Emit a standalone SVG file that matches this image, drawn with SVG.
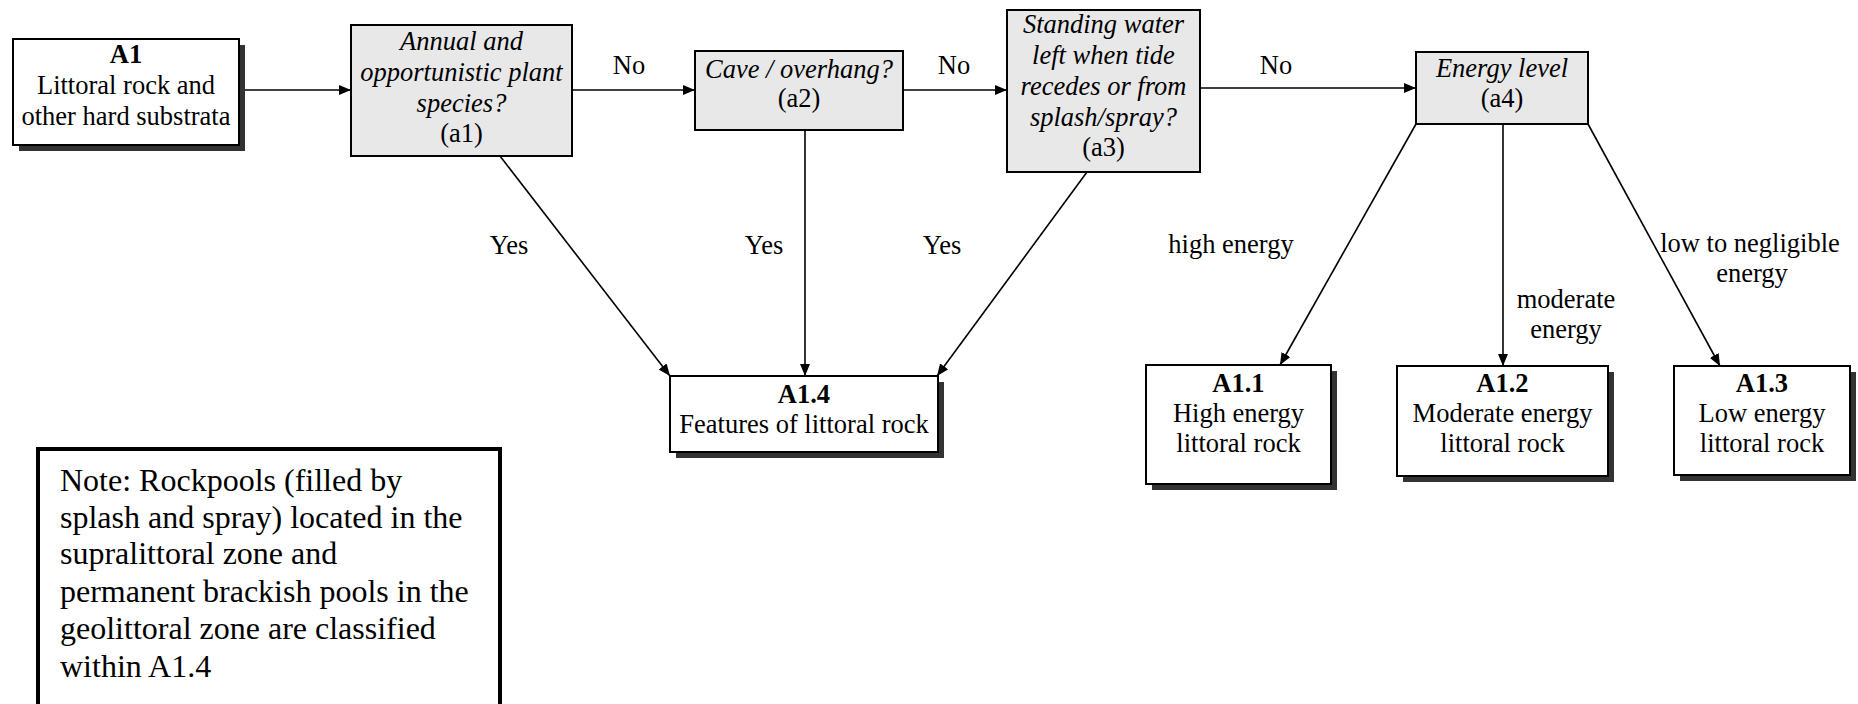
<svg xmlns="http://www.w3.org/2000/svg" width="1858" height="704" viewBox="0 0 1858 704">
<style>
text{font-family:"Liberation Serif","Times New Roman",serif;font-size:26.5px;fill:#000;text-anchor:middle}
.b{font-weight:bold}
.i{font-style:italic}
.note{font-size:32px;text-anchor:start}
.box{fill:#fff;stroke:#000;stroke-width:2}
.q{fill:#e8e8e8;stroke:#000;stroke-width:2}
.sh{fill:#333}
.c{stroke:#000;stroke-width:1.6;fill:none;marker-end:url(#ah)}
</style>
<defs>
<marker id="ah" markerUnits="userSpaceOnUse" markerWidth="12" markerHeight="10" refX="12" refY="5" orient="auto">
<path d="M0,0 L12,5 L0,10 z" fill="#000"/>
</marker>
</defs>
<rect width="1858" height="704" fill="#fff"/>
<g id="connectors">
<line class="c" x1="239" y1="90" x2="351" y2="90"/>
<line class="c" x1="572" y1="90" x2="695" y2="90"/>
<line class="c" x1="903" y1="90" x2="1007" y2="90"/>
<line class="c" x1="1200" y1="88" x2="1416" y2="88"/>
<line class="c" x1="500" y1="156" x2="670" y2="376"/>
<line class="c" x1="805" y1="130" x2="805" y2="376"/>
<line class="c" x1="1087" y1="172" x2="937" y2="376"/>
<line class="c" x1="1416" y1="124" x2="1280" y2="365"/>
<line class="c" x1="1503" y1="124" x2="1503" y2="366"/>
<line class="c" x1="1588" y1="124" x2="1720" y2="366"/>
<text x="629" y="74">No</text>
<text x="954" y="74">No</text>
<text x="1276" y="74">No</text>
<text x="509" y="254">Yes</text>
<text x="764" y="254">Yes</text>
<text x="942" y="254">Yes</text>
<text x="1231" y="253">high energy</text>
<text x="1566" y="308">moderate</text>
<text x="1566" y="338">energy</text>
<text x="1750" y="252">low to negligible</text>
<text x="1752" y="282">energy</text>
</g>
<g id="A1">
<rect class="sh" x="19" y="45" width="226" height="106"/>
<rect class="box" x="13" y="39" width="226" height="106"/>
<text class="b" x="126" y="63">A1</text>
<text x="126" y="94">Littoral rock and</text>
<text x="126" y="125">other hard substrata</text>
</g>
<g id="a1">
<rect class="q" x="351" y="25" width="221" height="131"/>
<text class="i" x="461.5" y="50">Annual and</text>
<text class="i" x="461.5" y="81">opportunistic plant</text>
<text class="i" x="461.5" y="112">species?</text>
<text x="461.5" y="142">(a1)</text>
</g>
<g id="a2">
<rect class="q" x="695" y="51" width="208" height="79"/>
<text class="i" x="799" y="78">Cave / overhang?</text>
<text x="799" y="107">(a2)</text>
</g>
<g id="a3">
<rect class="q" x="1007" y="10" width="193" height="162"/>
<text class="i" x="1103.5" y="33">Standing water</text>
<text class="i" x="1103.5" y="64">left when tide</text>
<text class="i" x="1103.5" y="95">recedes or from</text>
<text class="i" x="1103.5" y="126">splash/spray?</text>
<text x="1103.5" y="156">(a3)</text>
</g>
<g id="a4">
<rect class="q" x="1416" y="52" width="172" height="72"/>
<text class="i" x="1502" y="77">Energy level</text>
<text x="1502" y="107">(a4)</text>
</g>
<g id="A1.4">
<rect class="sh" x="676" y="382" width="268" height="76"/>
<rect class="box" x="670" y="376" width="268" height="76"/>
<text class="b" x="804" y="403">A1.4</text>
<text x="804" y="433">Features of littoral rock</text>
</g>
<g id="A1.1">
<rect class="sh" x="1152" y="371" width="185" height="119"/>
<rect class="box" x="1146" y="365" width="185" height="119"/>
<text class="b" x="1238.5" y="392">A1.1</text>
<text x="1238.5" y="422">High energy</text>
<text x="1238.5" y="452">littoral rock</text>
</g>
<g id="A1.2">
<rect class="sh" x="1403" y="372" width="211" height="110"/>
<rect class="box" x="1397" y="366" width="211" height="110"/>
<text class="b" x="1502.5" y="392">A1.2</text>
<text x="1502.5" y="422">Moderate energy</text>
<text x="1502.5" y="452">littoral rock</text>
</g>
<g id="A1.3">
<rect class="sh" x="1680" y="372" width="176" height="109"/>
<rect class="box" x="1674" y="366" width="176" height="109"/>
<text class="b" x="1762" y="392">A1.3</text>
<text x="1762" y="422">Low energy</text>
<text x="1762" y="452">littoral rock</text>
</g>
<g id="note">
<rect x="38" y="449" width="462" height="280" fill="#fff" stroke="#000" stroke-width="4"/>
<text class="note" x="60" y="491">Note: Rockpools (filled by</text>
<text class="note" x="60" y="528">splash and spray) located in the</text>
<text class="note" x="60" y="564">supralittoral zone and</text>
<text class="note" x="60" y="602">permanent brackish pools in the</text>
<text class="note" x="60" y="639">geolittoral zone are classified</text>
<text class="note" x="60" y="677">within A1.4</text>
</g>
</svg>
